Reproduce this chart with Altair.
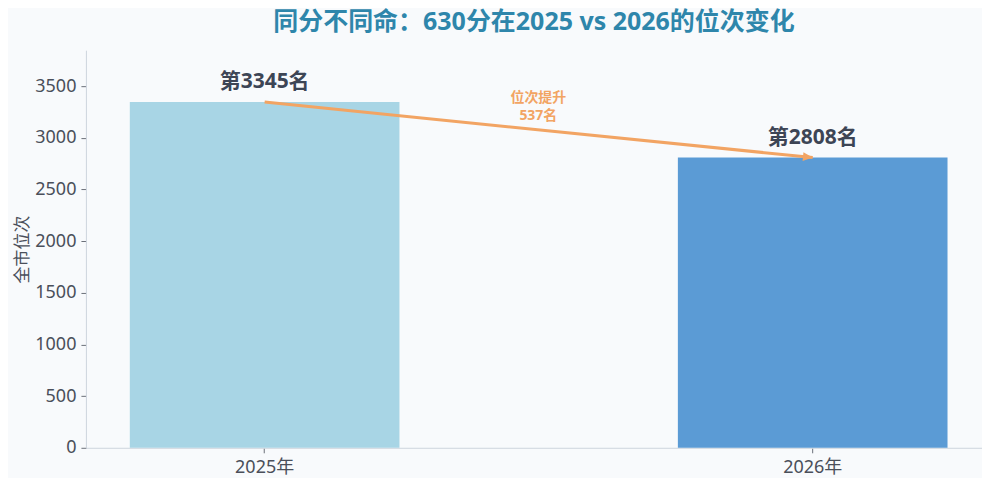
import pandas as pd
import altair as alt

# data
years = ["2025年", "2026年"]
ranks = [3345, 2808]
bar_colors = ["#A8D5E5", "#5B9BD5"]
title_text = "同分不同命：630分在2025 vs 2026的位次变化"

FONT = "Noto Sans, Noto Sans CJK SC"

df = pd.DataFrame({"year": years, "rank": ranks, "color": bar_colors})
df["label"] = ["第" + str(r) + "名" for r in ranks]

arrow_df = pd.DataFrame({
    "x_from": [years[0]], "x_to": [years[1]],
    "y_from": [ranks[0]], "y_to": [ranks[1]],
})
head_df = pd.DataFrame({"year": [years[1]], "rank": [ranks[1]]})
note_df = pd.DataFrame({
    "year": [years[0]],
    "rank": [(ranks[0] + ranks[1]) / 2],
    "line1": ["位次提升"],
    "line2": [str(ranks[0] - ranks[1]) + "名"],
})

x_scale = alt.Scale(domain=years, paddingInner=0.508, paddingOuter=0.0715, align=0.56)
y_scale = alt.Scale(domain=[0, ranks[0] * 1.15], nice=False)

base = alt.Chart(df)

bars = base.mark_bar().encode(
    x=alt.X("year:N", scale=x_scale, sort=years,
            axis=alt.Axis(title=None, labelAngle=0, labelPadding=6)),
    y=alt.Y("rank:Q", scale=y_scale, title="全市位次",
            axis=alt.Axis(values=list(range(0, 3501, 500)), format="d", grid=False,
                          titleX=-63, titleY=199, titleAngle=270,
                          titleAlign="center", titleBaseline="middle")),
    color=alt.Color("color:N", scale=None),
)

labels = base.mark_text(dy=-20, fontSize=21, fontWeight="bold", color="#3D4555", font=FONT).encode(
    x=alt.X("year:N", scale=x_scale, sort=years),
    y=alt.Y("rank:Q", scale=y_scale),
    text="label:N",
)

arrow = alt.Chart(arrow_df).mark_rule(color="#F2A463", strokeWidth=3).encode(
    x=alt.X("x_from:N", scale=x_scale, sort=years),
    x2="x_to:N",
    y=alt.Y("y_from:Q", scale=y_scale),
    y2="y_to:Q",
)

head = alt.Chart(head_df).mark_point(
    shape="M0,0 L-1,-0.45 L-1,0.45 Z", filled=True, color="#F2A463",
    size=380, angle=5.8, opacity=1,
).encode(
    x=alt.X("year:N", scale=x_scale, sort=years),
    y=alt.Y("rank:Q", scale=y_scale),
)

# annotation in the middle, two lines
note_base = alt.Chart(note_df).encode(
    x=alt.X("year:N", scale=x_scale, sort=years),
    y=alt.Y("rank:Q", scale=y_scale),
)
note_style = dict(dx=274, fontSize=14, fontWeight="bold", color="#F2A463",
                  font=FONT, baseline="middle")
note1 = note_base.mark_text(dy=-32, **note_style).encode(text="line1:N")
note2 = note_base.mark_text(dy=-14, **note_style).encode(text="line2:N")

chart = (
    alt.layer(bars, arrow, head, labels, note1, note2)
    .properties(
        width=897, height=398,
        autosize=alt.AutoSizeParams(type="none"),
        padding={"left": 78, "top": 42, "right": 0, "bottom": 30},
        background="#F8FAFC",
        title=alt.Title(title_text, fontSize=25, fontWeight="bold", color="#2E86AB",
                        font=FONT, anchor="middle", offset=15),
    )
    .configure_view(stroke=None)
    .configure_axis(
        labelFont=FONT, titleFont=FONT,
        labelFontSize=18, labelColor="#4A4F5A",
        titleFontSize=17, titleFontWeight="normal", titleColor="#4A4F5A",
        domainColor="#CDD5DD", tickColor="#6A6F78", tickSize=5,
    )
    .configure_axisY(labelPadding=5)
)

chart.save("out.html", embed_options={"renderer": "svg", "actions": False})
